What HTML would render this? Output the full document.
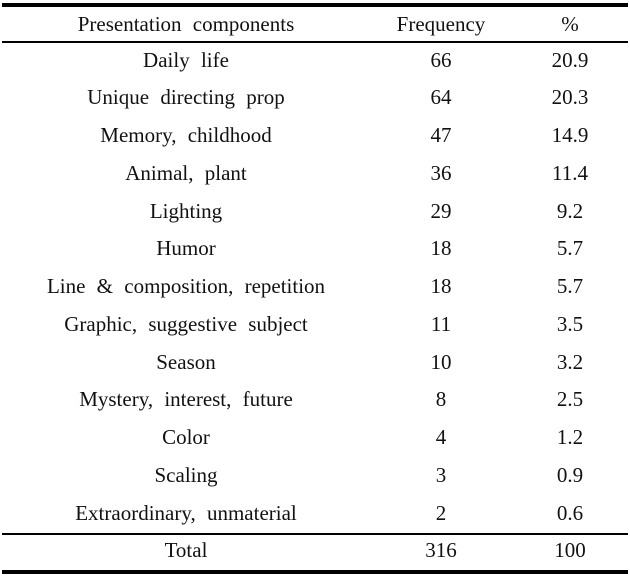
<!DOCTYPE html>
<html><head><meta charset="utf-8"><style>
html,body{margin:0;padding:0;background:#fff;}
body{width:630px;height:576px;position:relative;overflow:hidden;font-family:"Liberation Serif","Times New Roman",serif;color:#111;}
.l{position:absolute;left:2px;width:626px;background:#000;}
.c{position:absolute;width:320px;text-align:center;font-size:21px;line-height:24px;white-space:nowrap;word-spacing:6px;}
.a{left:26px;}.b{left:281px;}.d{left:410px;}
</style></head><body>
<div class="l" style="top:3px;height:4px"></div>
<div class="l" style="top:41px;height:1.6px"></div>
<div class="l" style="top:533px;height:1.8px"></div>
<div class="l" style="top:570px;height:4px"></div>

<div class="c a" style="top:11.9px">Presentation components</div><div class="c b" style="top:11.9px">Frequency</div><div class="c d" style="top:11.9px">%</div>

<div class="c a" style="top:47.6px">Daily life</div><div class="c b" style="top:47.6px">66</div><div class="c d" style="top:47.6px">20.9</div>
<div class="c a" style="top:85.35px">Unique directing prop</div><div class="c b" style="top:85.35px">64</div><div class="c d" style="top:85.35px">20.3</div>
<div class="c a" style="top:123.1px">Memory, childhood</div><div class="c b" style="top:123.1px">47</div><div class="c d" style="top:123.1px">14.9</div>
<div class="c a" style="top:160.85px">Animal, plant</div><div class="c b" style="top:160.85px">36</div><div class="c d" style="top:160.85px">11.4</div>
<div class="c a" style="top:198.6px">Lighting</div><div class="c b" style="top:198.6px">29</div><div class="c d" style="top:198.6px">9.2</div>
<div class="c a" style="top:236.35px">Humor</div><div class="c b" style="top:236.35px">18</div><div class="c d" style="top:236.35px">5.7</div>
<div class="c a" style="top:274.1px">Line &amp; composition, repetition</div><div class="c b" style="top:274.1px">18</div><div class="c d" style="top:274.1px">5.7</div>
<div class="c a" style="top:311.85px">Graphic, suggestive subject</div><div class="c b" style="top:311.85px">11</div><div class="c d" style="top:311.85px">3.5</div>
<div class="c a" style="top:349.6px">Season</div><div class="c b" style="top:349.6px">10</div><div class="c d" style="top:349.6px">3.2</div>
<div class="c a" style="top:387.35px">Mystery, interest, future</div><div class="c b" style="top:387.35px">8</div><div class="c d" style="top:387.35px">2.5</div>
<div class="c a" style="top:425.1px">Color</div><div class="c b" style="top:425.1px">4</div><div class="c d" style="top:425.1px">1.2</div>
<div class="c a" style="top:462.85px">Scaling</div><div class="c b" style="top:462.85px">3</div><div class="c d" style="top:462.85px">0.9</div>
<div class="c a" style="top:500.6px">Extraordinary, unmaterial</div><div class="c b" style="top:500.6px">2</div><div class="c d" style="top:500.6px">0.6</div>

<div class="c a" style="top:537.9px">Total</div><div class="c b" style="top:537.9px">316</div><div class="c d" style="top:537.9px">100</div>
</body></html>
